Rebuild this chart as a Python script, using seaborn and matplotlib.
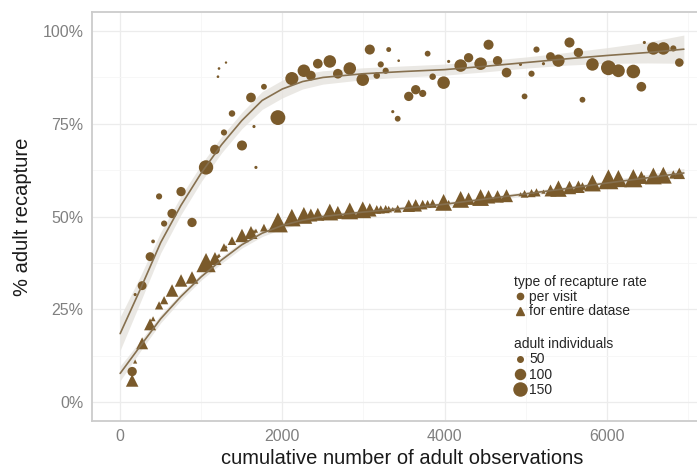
import matplotlib
matplotlib.use("Agg")
import numpy as np
import pandas as pd
import matplotlib.pyplot as plt
from matplotlib.lines import Line2D
from matplotlib.ticker import PercentFormatter, MultipleLocator
import seaborn as sns

# cumulative number of adult observations at each visit
obs = [148, 185, 271, 369, 406, 480, 542, 640, 751, 886,
       1059, 1169, 1206, 1219, 1280, 1305, 1379, 1502, 1613, 1650,
       1674, 1773, 1945, 2117, 2265, 2351, 2437, 2585, 2684, 2831,
       2991, 3078, 3164, 3213, 3274, 3311, 3361, 3422, 3434, 3558,
       3644, 3730, 3791, 3853, 3988, 4050, 4198, 4296, 4444, 4542,
       4653, 4764, 4936, 4986, 5072, 5133, 5219, 5306, 5404, 5540,
       5650, 5700, 5823, 6020, 6143, 6327, 6426, 6463, 6574, 6697,
       6820, 6894]

# recapture rate per visit (%)
per_visit = [8.3, 29.0, 31.4, 39.2, 43.3, 55.4, 48.1, 50.8, 56.7, 48.4,
             63.2, 68.0, 87.6, 89.8, 72.6, 91.4, 77.7, 69.1, 82.0, 74.2,
             63.2, 84.9, 76.6, 87.1, 89.2, 87.9, 91.1, 91.7, 88.4, 89.8,
             86.8, 94.9, 87.9, 90.9, 89.2, 94.9, 78.2, 76.3, 91.9, 82.3,
             84.1, 83.1, 93.8, 87.6, 86.0, 91.7, 90.6, 92.7, 91.1, 96.2,
             91.9, 88.7, 90.9, 82.3, 88.4, 94.9, 91.1, 93.0, 91.9, 96.8,
             94.1, 81.4, 90.9, 90.0, 89.2, 89.0, 84.9, 96.8, 95.2, 95.2,
             95.2, 91.4]

# recapture rate for the entire dataset so far (%)
entire = [5.9, 11.0, 15.9, 21.0, 22.5, 26.1, 27.5, 30.1, 32.8, 33.6,
          37.6, 38.7, 39.3, 39.6, 41.7, 41.9, 43.5, 44.9, 45.7, 46.0,
          46.2, 47.0, 48.4, 49.7, 50.3, 50.4, 50.6, 51.2, 51.1, 51.5,
          51.8, 51.8, 51.9, 51.9, 52.0, 52.0, 52.0, 52.1, 52.1, 52.9,
          53.0, 53.2, 53.4, 53.5, 53.8, 53.9, 54.6, 54.8, 55.1, 55.3,
          55.4, 55.6, 56.0, 56.1, 56.3, 56.5, 56.7, 57.0, 57.5, 57.8,
          58.0, 58.2, 59.0, 60.0, 60.2, 60.3, 60.5, 60.6, 60.9, 61.1,
          61.3, 61.6]

# adult individuals seen on the visit
adults = [90, 35, 85, 85, 38, 55, 55, 90, 90, 90,
          175, 95, 33, 33, 55, 32, 58, 100, 95, 35,
          35, 52, 185, 150, 140, 95, 95, 140, 95, 140,
          140, 100, 58, 55, 55, 45, 35, 52, 33, 90,
          90, 65, 52, 58, 140, 35, 140, 90, 140, 100,
          90, 95, 35, 52, 55, 55, 35, 85, 135, 100,
          90, 52, 140, 185, 145, 160, 95, 35, 140, 140,
          55, 80]

# smoothed fits (loess) with their confidence half-widths
fit_x = [0, 250, 500, 750, 1000, 1250, 1500, 1750, 2000, 2250,
         2500, 3000, 3500, 4000, 4500, 5000, 5500, 6000, 6500, 6950]
fit_visit = [18.5, 30.5, 43.0, 53.0, 61.7, 69.3, 75.8, 81.2, 84.3, 86.3,
             87.4, 88.4, 89.0, 89.5, 90.4, 91.4, 92.4, 93.3, 94.1, 95.0]
fit_visit_ci = [4.5, 3.5, 2.8, 2.5, 2.3, 2.2, 2.2, 2.4, 2.4, 2.0,
                1.8, 1.6, 1.5, 1.5, 1.5, 1.5, 1.7, 2.1, 2.8, 3.8]
fit_entire = [7.8, 15.2, 22.5, 28.5, 33.8, 38.3, 42.4, 45.5, 47.6, 49.0,
              50.0, 51.2, 52.2, 53.3, 54.7, 56.1, 57.5, 59.0, 60.4, 61.7]
fit_entire_ci = [2.0, 1.4, 1.1, 1.0, 0.9, 0.9, 0.9, 0.9, 0.9, 0.8,
                 0.7, 0.6, 0.6, 0.6, 0.6, 0.6, 0.6, 0.7, 0.9, 1.2]

types = ["per visit", "for entire datase"]
legend_sizes = [50, 100, 150]

brown = "#7a5a2b"
line_col = "#86704f"
band_col = "#e4e1db"

df = pd.concat([
    pd.DataFrame({"obs": obs, "rate": per_visit, "adults": adults, "type": types[0]}),
    pd.DataFrame({"obs": obs, "rate": entire, "adults": adults, "type": types[1]}),
])
fits = pd.DataFrame({"x": fit_x, "visit": fit_visit, "visit_ci": fit_visit_ci,
                     "entire": fit_entire, "entire_ci": fit_entire_ci})

sns.set_theme(style="whitegrid")
plt.rcParams["font.family"] = ["Liberation Sans", "DejaVu Sans"]

fig = plt.figure(figsize=(6.97, 4.70), dpi=100)
ax = fig.add_axes([92 / 697, 1 - 421 / 470, 620 / 697, 409 / 470])

# point size area scales linearly with adult individuals (like ggplot scale_size)
size_norm = (30, 200)
size_range = (1.5, 125.0)
tri_scale = 1.8  # ggplot's filled triangle looks larger than mpl's "^" at equal size

def marker_area(v):
    return size_range[0] + (v - size_norm[0]) / (size_norm[1] - size_norm[0]) * (size_range[1] - size_range[0])

for col, ci in [("visit", "visit_ci"), ("entire", "entire_ci")]:
    ax.fill_between(fits["x"], fits[col] - fits[ci], fits[col] + fits[ci],
                    color=band_col, alpha=0.75, lw=0, zorder=1)

sns.scatterplot(data=df[df["type"] == types[0]], x="obs", y="rate", marker="o",
                size="adults", sizes=size_range, size_norm=size_norm,
                color=brown, linewidth=0, legend=False, ax=ax, zorder=2)
sns.scatterplot(data=df[df["type"] == types[1]], x="obs", y="rate", marker="^",
                size="adults",
                sizes=(size_range[0] * tri_scale, size_range[1] * tri_scale),
                size_norm=size_norm,
                color=brown, linewidth=0, legend=False, ax=ax, zorder=2)

sns.lineplot(data=fits, x="x", y="visit", color=line_col, lw=1.2, ax=ax, zorder=3)
sns.lineplot(data=fits, x="x", y="entire", color=line_col, lw=1.2, ax=ax, zorder=3)

ax.set_xlim(-347, 7297)
ax.set_ylim(-5, 105)
ax.xaxis.set_major_locator(MultipleLocator(2000))
ax.xaxis.set_minor_locator(MultipleLocator(1000))
ax.yaxis.set_major_locator(MultipleLocator(25))
ax.yaxis.set_minor_locator(MultipleLocator(12.5))
ax.yaxis.set_major_formatter(PercentFormatter(decimals=0))

ax.grid(which="major", color="#ececec", lw=0.9)
ax.grid(which="minor", color="#f6f6f6", lw=0.6)
ax.set_facecolor("white")
for side in ["top", "left", "bottom"]:
    ax.spines[side].set_color("#cccccc")
    ax.spines[side].set_linewidth(1.3)
ax.spines["right"].set_visible(False)

ax.tick_params(axis="both", which="major", length=3, width=0.8, color="#b5b5b5",
               labelcolor="#808080", labelsize=11.5, pad=3)
ax.tick_params(axis="both", which="minor", length=0)

ax.set_xlabel("cumulative number of adult observations", fontsize=14.5,
              color="#1a1a1a", labelpad=3)
ax.set_ylabel("% adult recapture", fontsize=14.5, color="#1a1a1a", labelpad=8)

# legends
type_handles = [
    Line2D([], [], marker="o", ls="", color=brown, markersize=4.5, label=types[0]),
    Line2D([], [], marker="^", ls="", color=brown, markersize=5.5, label=types[1]),
]
leg1 = ax.legend(handles=type_handles, title="type of recapture rate",
                 loc="upper left", bbox_to_anchor=(514 / 697, 1 - 275 / 470),
                 bbox_transform=fig.transFigure, frameon=False, fontsize=10,
                 title_fontsize=10, borderpad=0, borderaxespad=0,
                 labelspacing=0.05, handletextpad=0.2, handlelength=0.9)
leg1._legend_box.align = "left"
ax.add_artist(leg1)

size_handles = [
    Line2D([], [], marker="o", ls="", color=brown,
           markersize=np.sqrt(marker_area(v)), label=str(v))
    for v in legend_sizes
]
leg2 = ax.legend(handles=size_handles, title="adult individuals",
                 loc="upper left", bbox_to_anchor=(514 / 697, 1 - 337 / 470),
                 bbox_transform=fig.transFigure, frameon=False, fontsize=10,
                 title_fontsize=10, borderpad=0, borderaxespad=0,
                 labelspacing=0.1, handletextpad=0.2, handlelength=0.9)
leg2._legend_box.align = "left"

fig.savefig("out.png", dpi=100)
